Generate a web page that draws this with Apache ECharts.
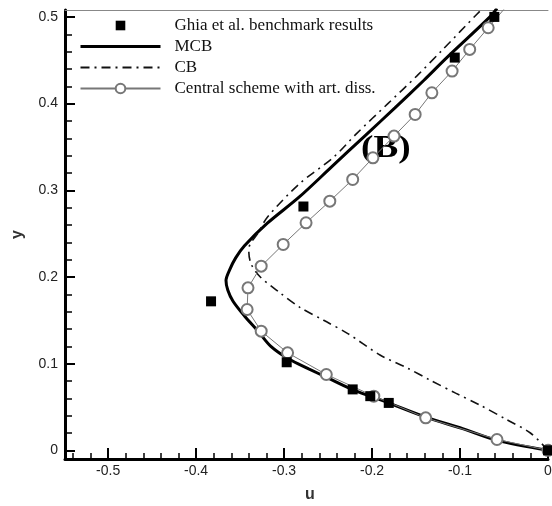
<!DOCTYPE html>
<html>
<head>
<meta charset="utf-8">
<script src="https://cdn.jsdelivr.net/npm/echarts@6/dist/echarts.min.js"></script>
<style>
  html, body { margin: 0; padding: 0; background: #fff; }
  #chart { width: 552px; height: 506px; }
</style>
</head>
<body>
<div id="chart"></div>
<script>
// tick labels
const uTicks = [-0.5, -0.4, -0.3, -0.2, -0.1, 0]
const yTicks = [0, 0.1, 0.2, 0.3, 0.4, 0.5]

// Ghia et al. (points [u, y])
const ghiaData = [
  [0, 0], [-0.181, 0.0547], [-0.202, 0.0625], [-0.222, 0.0703], [-0.297, 0.1016],
  [-0.383, 0.1719], [-0.278, 0.2813], [-0.106, 0.4531], [-0.061, 0.5]
]

// MCB
const mcbData = [
  [0, 0], [-0.058, 0.0115], [-0.097, 0.025], [-0.138, 0.038], [-0.182, 0.055],
  [-0.222, 0.070], [-0.245, 0.081], [-0.272, 0.094], [-0.294, 0.105], [-0.315, 0.120],
  [-0.330, 0.138], [-0.345, 0.155], [-0.358, 0.172], [-0.364, 0.185], [-0.366, 0.196],
  [-0.362, 0.208], [-0.355, 0.222], [-0.345, 0.236], [-0.319, 0.262], [-0.283, 0.292],
  [-0.246, 0.327], [-0.209, 0.362], [-0.174, 0.395], [-0.141, 0.427], [-0.115, 0.453],
  [-0.066, 0.500], [-0.058, 0.510]
]

// CB
const cbData = [
  [0, 0], [-0.020, 0.020], [-0.048, 0.036], [-0.077, 0.052], [-0.105, 0.066],
  [-0.134, 0.081], [-0.160, 0.095], [-0.191, 0.110], [-0.228, 0.135], [-0.255, 0.150],
  [-0.282, 0.165], [-0.305, 0.182], [-0.327, 0.200], [-0.337, 0.214], [-0.340, 0.228],
  [-0.339, 0.237], [-0.330, 0.250], [-0.319, 0.269], [-0.282, 0.308], [-0.244, 0.338],
  [-0.217, 0.366], [-0.182, 0.400], [-0.149, 0.432], [-0.120, 0.462], [-0.080, 0.504],
  [-0.074, 0.510]
]

// Central scheme with art. diss.
const centralData = [
  [0, 0], [-0.058, 0.0125], [-0.139, 0.0375], [-0.198, 0.0625], [-0.252, 0.0875],
  [-0.296, 0.1125], [-0.326, 0.1375], [-0.342, 0.1625], [-0.341, 0.1875], [-0.326, 0.2125],
  [-0.301, 0.2375], [-0.275, 0.2625], [-0.248, 0.2875], [-0.222, 0.3125], [-0.199, 0.3375],
  [-0.175, 0.3625], [-0.151, 0.3875], [-0.132, 0.4125], [-0.109, 0.4375], [-0.089, 0.4625],
  [-0.068, 0.4875], [-0.047, 0.5125]
]

const uMin = -0.549, uMax = 0
const yMin = -0.01, yMax = 0.508

// minor ticks every 0.02
const uMinor = []
for (let i = -27; i <= 0; i++) uMinor.push(+(i * 0.02).toFixed(2))
const yMinor = []
for (let i = 0; i <= 25; i++) yMinor.push(+(i * 0.02).toFixed(2))

const labelFont = "'Liberation Sans', Arial, sans-serif"
const serifFont = "'Liberation Serif', 'Times New Roman', serif"

const myChart = echarts.init(document.getElementById("chart"))

const option = {
  animation: false,
  graphic: [
    {
      type: "text",
      left: 361,
      top: 133,
      scaleX: 1.2,
      style: { text: "(B)", font: "bold 31px " + serifFont, fill: "#000" }
    }
  ],
  legend: {
    orient: "vertical",
    left: 79,
    top: 17,
    padding: 0,
    itemWidth: 80,
    itemHeight: 12,
    itemGap: 4,
    textStyle: { fontFamily: serifFont, fontSize: 17, color: "#111", padding: [0, 0, 0, 9] },
    data: [
      { name: "Ghia et al. benchmark results" },
      { name: "MCB", itemStyle: { opacity: 0 }, lineStyle: { width: 3 } },
      { name: "CB", itemStyle: { opacity: 0 } },
      { name: "Central scheme with art. diss." }
    ]
  },
  grid: { left: 65, right: 4, top: 10, bottom: 47, outerBoundsMode: "none" },
  xAxis: [
    {
      type: "value",
      min: uMin,
      max: uMax,
      position: "bottom",
      name: "u",
      nameLocation: "middle",
      nameGap: 28,
      nameTextStyle: { fontFamily: labelFont, fontSize: 16, fontWeight: "bold", color: "#333", padding: [0, 0, 0, 7] },
      axisLine: { onZero: false, lineStyle: { color: "#000", width: 3 } },
      axisTick: { inside: true, length: 11, customValues: uTicks, lineStyle: { color: "#000", width: 2 } },
      axisLabel: { customValues: uTicks, margin: 5, fontFamily: labelFont, fontSize: 14, color: "#222" },
      splitLine: { show: false }
    },
    {
      type: "value",
      min: uMin,
      max: uMax,
      position: "bottom",
      axisLine: { show: false, onZero: false },
      axisTick: { inside: true, length: 6, customValues: uMinor, lineStyle: { color: "#000", width: 1.5 } },
      axisLabel: { show: false },
      splitLine: { show: false }
    },
    {
      type: "value",
      min: uMin,
      max: uMax,
      position: "top",
      axisLine: { onZero: false, lineStyle: { color: "#888", width: 1 } },
      axisTick: { show: false },
      axisLabel: { show: false },
      splitLine: { show: false }
    }
  ],
  yAxis: [
    {
      type: "value",
      min: yMin,
      max: yMax,
      position: "left",
      name: "y",
      nameLocation: "middle",
      nameGap: 39,
      nameTextStyle: { fontFamily: labelFont, fontSize: 16, fontWeight: "bold", color: "#333" },
      axisLine: { onZero: false, lineStyle: { color: "#000", width: 3 } },
      axisTick: { inside: true, length: 10, customValues: yTicks, lineStyle: { color: "#000", width: 2 } },
      axisLabel: { customValues: yTicks, margin: 7, fontFamily: labelFont, fontSize: 14, color: "#222" },
      splitLine: { show: false }
    },
    {
      type: "value",
      min: yMin,
      max: yMax,
      position: "left",
      axisLine: { show: false, onZero: false },
      axisTick: { inside: true, length: 7, customValues: yMinor, lineStyle: { color: "#000", width: 1.5 } },
      axisLabel: { show: false },
      splitLine: { show: false }
    }
  ],
  series: [
    {
      name: "Ghia et al. benchmark results",
      type: "line",
      data: ghiaData,
      symbol: "rect",
      symbolSize: 10,
      clip: false,
      z: 5,
      itemStyle: { color: "#000" },
      lineStyle: { opacity: 0, width: 0 }
    },
    {
      name: "MCB",
      type: "line",
      data: mcbData,
      symbol: "none",
      smooth: 0.3,
      lineStyle: { color: "#000", width: 3 },
      itemStyle: { color: "#000" }
    },
    {
      name: "CB",
      type: "line",
      data: cbData,
      symbol: "none",
      smooth: 0.3,
      lineStyle: { color: "#111", width: 1.6, type: [9, 5, 2, 5] },
      itemStyle: { color: "#111" }
    },
    {
      name: "Central scheme with art. diss.",
      type: "line",
      data: centralData,
      symbol: "emptyCircle",
      symbolSize: 11,
      lineStyle: { color: "#777", width: 1 },
      itemStyle: { color: "#777", borderWidth: 1 }
    }
  ]
}
myChart.setOption(option, true)
</script>
</body>
</html>
